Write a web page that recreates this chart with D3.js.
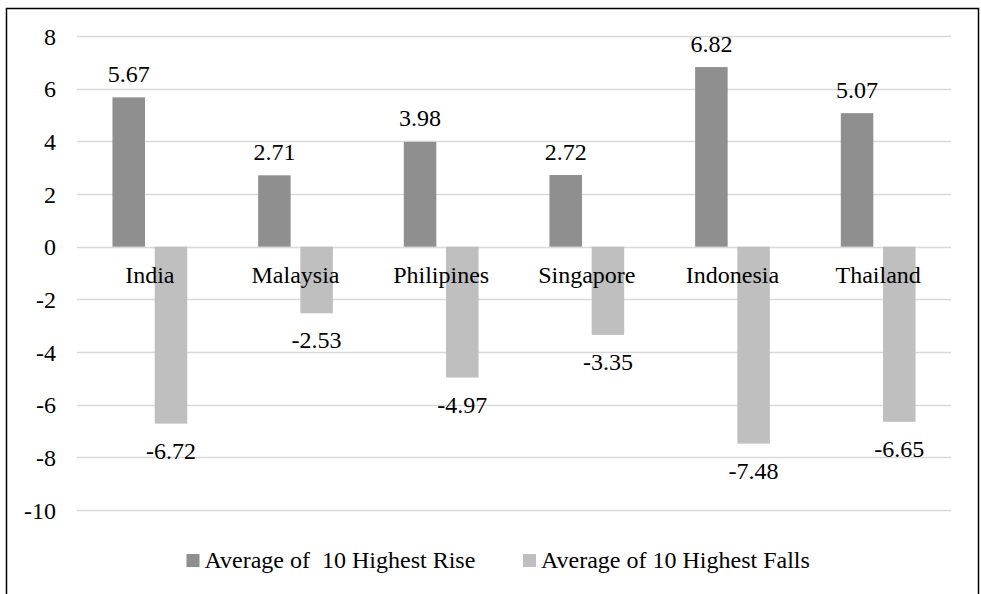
<!DOCTYPE html>
<html>
<head>
<meta charset="utf-8">
<script src="https://cdn.jsdelivr.net/npm/d3@7"></script>
<style>
  html, body { margin: 0; padding: 0; background: #fff; }
  svg { display: block; }
</style>
</head>
<body>
<svg id="chart" width="981" height="594"></svg>
<script>
// Countries on the category axis
const countries = ["India", "Malaysia", "Philipines", "Singapore", "Indonesia", "Thailand"];
// Average of the 10 highest daily rises / falls per market
const highestRise = [5.67, 2.71, 3.98, 2.72, 6.82, 5.07];
const highestFalls = [-6.72, -2.53, -4.97, -3.35, -7.48, -6.65];
// Series names shown in the legend
const seriesNames = ["Average of  10 Highest Rise", "Average of 10 Highest Falls"];
// Value-axis ticks
const yTicks = [8, 6, 4, 2, 0, -2, -4, -6, -8, -10];

const seriesColors = ["#8f8f8f", "#bfbfbf"];
const FONT = '"Liberation Serif", "Times New Roman", Times, serif';
const fontSize = "24px";
// plain hyphen-minus for negative numbers
const fmtTick = d => String(d);
const fmtVal = d => d.toFixed(2);

const svg = d3.select("#chart");

function styleText(sel) {
  sel.style("font-family", FONT).style("font-size", fontSize).style("fill", "#000");
}

// Outer frame
svg.append("rect")
  .attr("x", 6.5).attr("y", 8.5)
  .attr("width", 972).attr("height", 600)
  .attr("fill", "none").attr("stroke", "#000").attr("stroke-width", 1.5);

const plot = { left: 77, right: 951, top: 36, bottom: 510 };

const y = d3.scaleLinear().domain([-10, 8]).range([plot.bottom, plot.top]);
const x0 = d3.scaleBand().domain(countries).range([plot.left, plot.right]).padding(0);
const x1 = d3.scaleBand().domain([0, 1]).range([0, x0.bandwidth()])
  .paddingInner(0.23).paddingOuter(0.84);

// Gridlines
svg.append("g")
  .selectAll("line")
  .data(yTicks)
  .join("line")
  .attr("x1", plot.left).attr("x2", plot.right)
  .attr("y1", d => Math.round(y(d)) + 0.5).attr("y2", d => Math.round(y(d)) + 0.5)
  .attr("stroke", "#d9d9d9").attr("stroke-width", 1.5);

// Value axis labels
const yAxis = d3.axisLeft(y).tickValues(yTicks).tickSize(0).tickPadding(0)
  .tickFormat(fmtTick);
const yAxisG = svg.append("g").attr("transform", "translate(56,0)").call(yAxis);
yAxisG.select(".domain").remove();
yAxisG.selectAll("text").call(styleText).attr("dy", "0.34em");

// Bars
const rows = countries.map((c, i) => ({ country: c, values: [highestRise[i], highestFalls[i]] }));
const groups = svg.append("g").selectAll("g")
  .data(rows).join("g")
  .attr("transform", d => `translate(${x0(d.country)},0)`);

groups.selectAll("rect")
  .data(d => d.values.map((v, k) => ({ k, v })))
  .join("rect")
  .attr("x", d => x1(d.k))
  .attr("width", x1.bandwidth())
  .attr("y", d => y(Math.max(0, d.v)))
  .attr("height", d => Math.abs(y(d.v) - y(0)))
  .attr("fill", d => seriesColors[d.k]);

// Data labels
groups.selectAll("text.val")
  .data(d => d.values.map((v, k) => ({ k, v })))
  .join("text")
  .attr("class", "val")
  .attr("x", d => x1(d.k) + x1.bandwidth() / 2)
  .attr("y", d => d.v >= 0 ? y(d.v) - 15.5 : y(d.v) + 35)
  .attr("text-anchor", "middle")
  .call(styleText)
  .text(d => fmtVal(d.v));

// Category labels just below the zero line
const xAxis = d3.axisBottom(x0).tickSize(0).tickPadding(0);
const xAxisG = svg.append("g").attr("transform", `translate(0,${y(0)})`).call(xAxis);
xAxisG.select(".domain").remove();
xAxisG.selectAll("text").call(styleText).attr("dy", null).attr("y", 36);

// Legend
const legendX = [186.5, 523];
const legend = svg.append("g").selectAll("g")
  .data(seriesNames).join("g")
  .attr("transform", (d, i) => `translate(${legendX[i]},554)`);
legend.append("rect")
  .attr("width", 13).attr("height", 13)
  .attr("fill", (d, i) => seriesColors[i]);
legend.append("text")
  .attr("x", 18).attr("y", 14)
  .call(styleText)
  .style("white-space", "pre")
  .text(d => d);
</script>
</body>
</html>
